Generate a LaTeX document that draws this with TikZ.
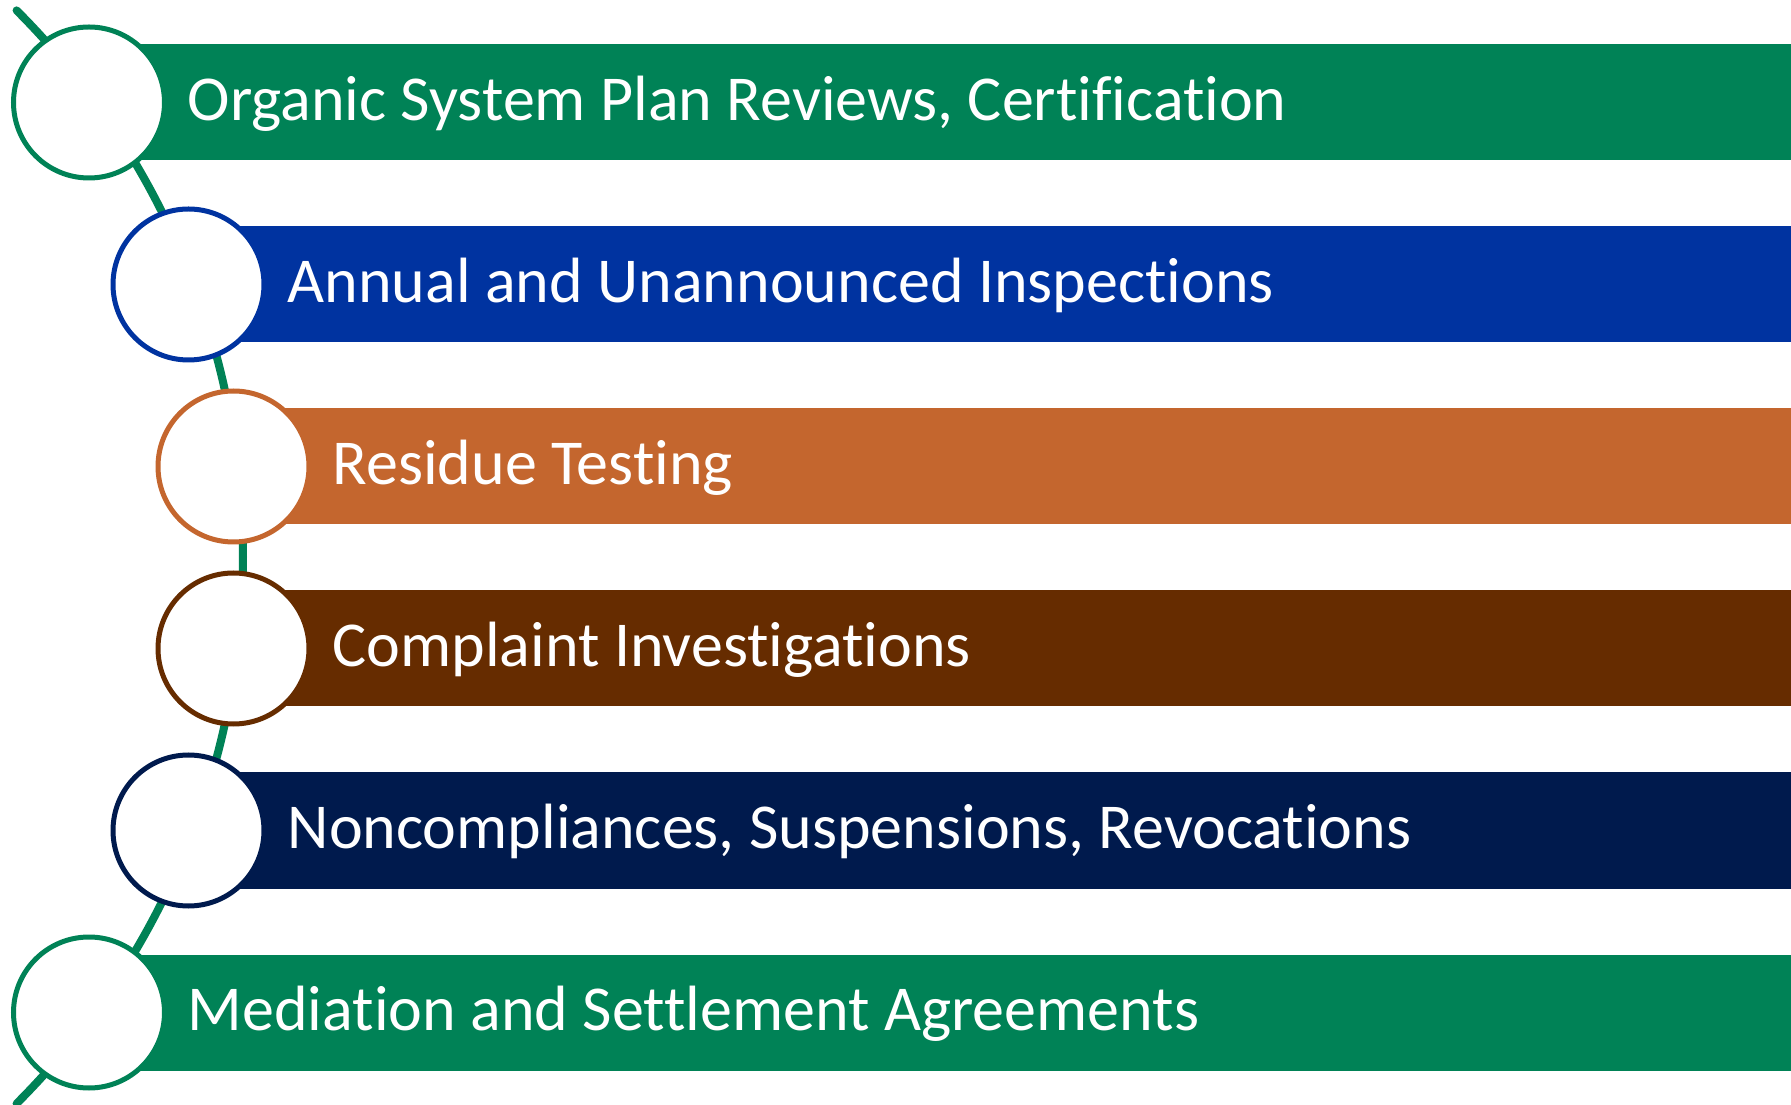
\documentclass[tikz,border=0pt]{standalone}
\usepackage{fontspec}
\setmainfont{Carlito}[Ligatures={NoCommon,NoContextual}]
\definecolor{cgreen}{RGB}{0,130,86}
\definecolor{cblue}{RGB}{0,51,160}
\definecolor{corange}{RGB}{196,102,46}
\definecolor{cbrown}{RGB}{102,44,0}
\definecolor{cnavy}{RGB}{0,26,77}
\begin{document}
\begin{tikzpicture}[x=1pt,y=1pt,
  bar/.style={rectangle, inner sep=0pt, minimum height=116pt, anchor=west},
  ring/.style={circle, draw=#1, fill=white, line width=5pt, minimum size=151pt, inner sep=0pt},
  lbl/.style={anchor=base west, inner sep=0pt, text=white, font=\fontsize{64}{77}\selectfont},
  arcline/.style={draw=cgreen, line width=8pt, line cap=round}]
\useasboundingbox (0,0) rectangle (1791,1104);
% bars
\node[bar, fill=cgreen,  minimum width=1702pt]   (b1) at (89,1001.5) {};
\node[bar, fill=cblue,   minimum width=1602.5pt] (b2) at (188.5,819.5) {};
\node[bar, fill=corange, minimum width=1557.5pt] (b3) at (233.5,637.5) {};
\node[bar, fill=cbrown,  minimum width=1557.5pt] (b4) at (233.5,455.5) {};
\node[bar, fill=cnavy,   minimum width=1602.5pt] (b5) at (188.5,273.5) {};
\node[bar, fill=cgreen,  minimum width=1702pt]   (b6) at (89,91.5) {};
% arc
\coordinate (C) at (-530,547);
\draw[arcline] ([shift={(45:773)}]C) arc[start angle=45, end angle=-45, radius=773];
% circles
\node[ring=cgreen]  (c1) at (89,1001.5) {};
\node[ring=cblue]   (c2) at (188.5,819.5) {};
\node[ring=corange] (c3) at (233.5,637.5) {};
\node[ring=cbrown]  (c4) at (233.5,455.5) {};
\node[ring=cnavy]   (c5) at (188.5,273.5) {};
\node[ring=cgreen]  (c6) at (89,91.5) {};
% labels
\node[lbl] (t1) at (187.5,983.5) {Organic System Plan Reviews, Certification};
\node[lbl] (t2) at (287.5,801.5) {Annual and Unannounced Inspections};
\node[lbl] (t3) at (332.5,619.5) {Residue Testing};
\node[lbl] (t4) at (332.5,437.5) {Complaint Investigations};
\node[lbl] (t5) at (287.5,255.5) {Noncompliances, Suspensions, Revocations};
\node[lbl] (t6) at (187.5,73.5) {Mediation and Settlement Agreements};
\end{tikzpicture}
\end{document}
